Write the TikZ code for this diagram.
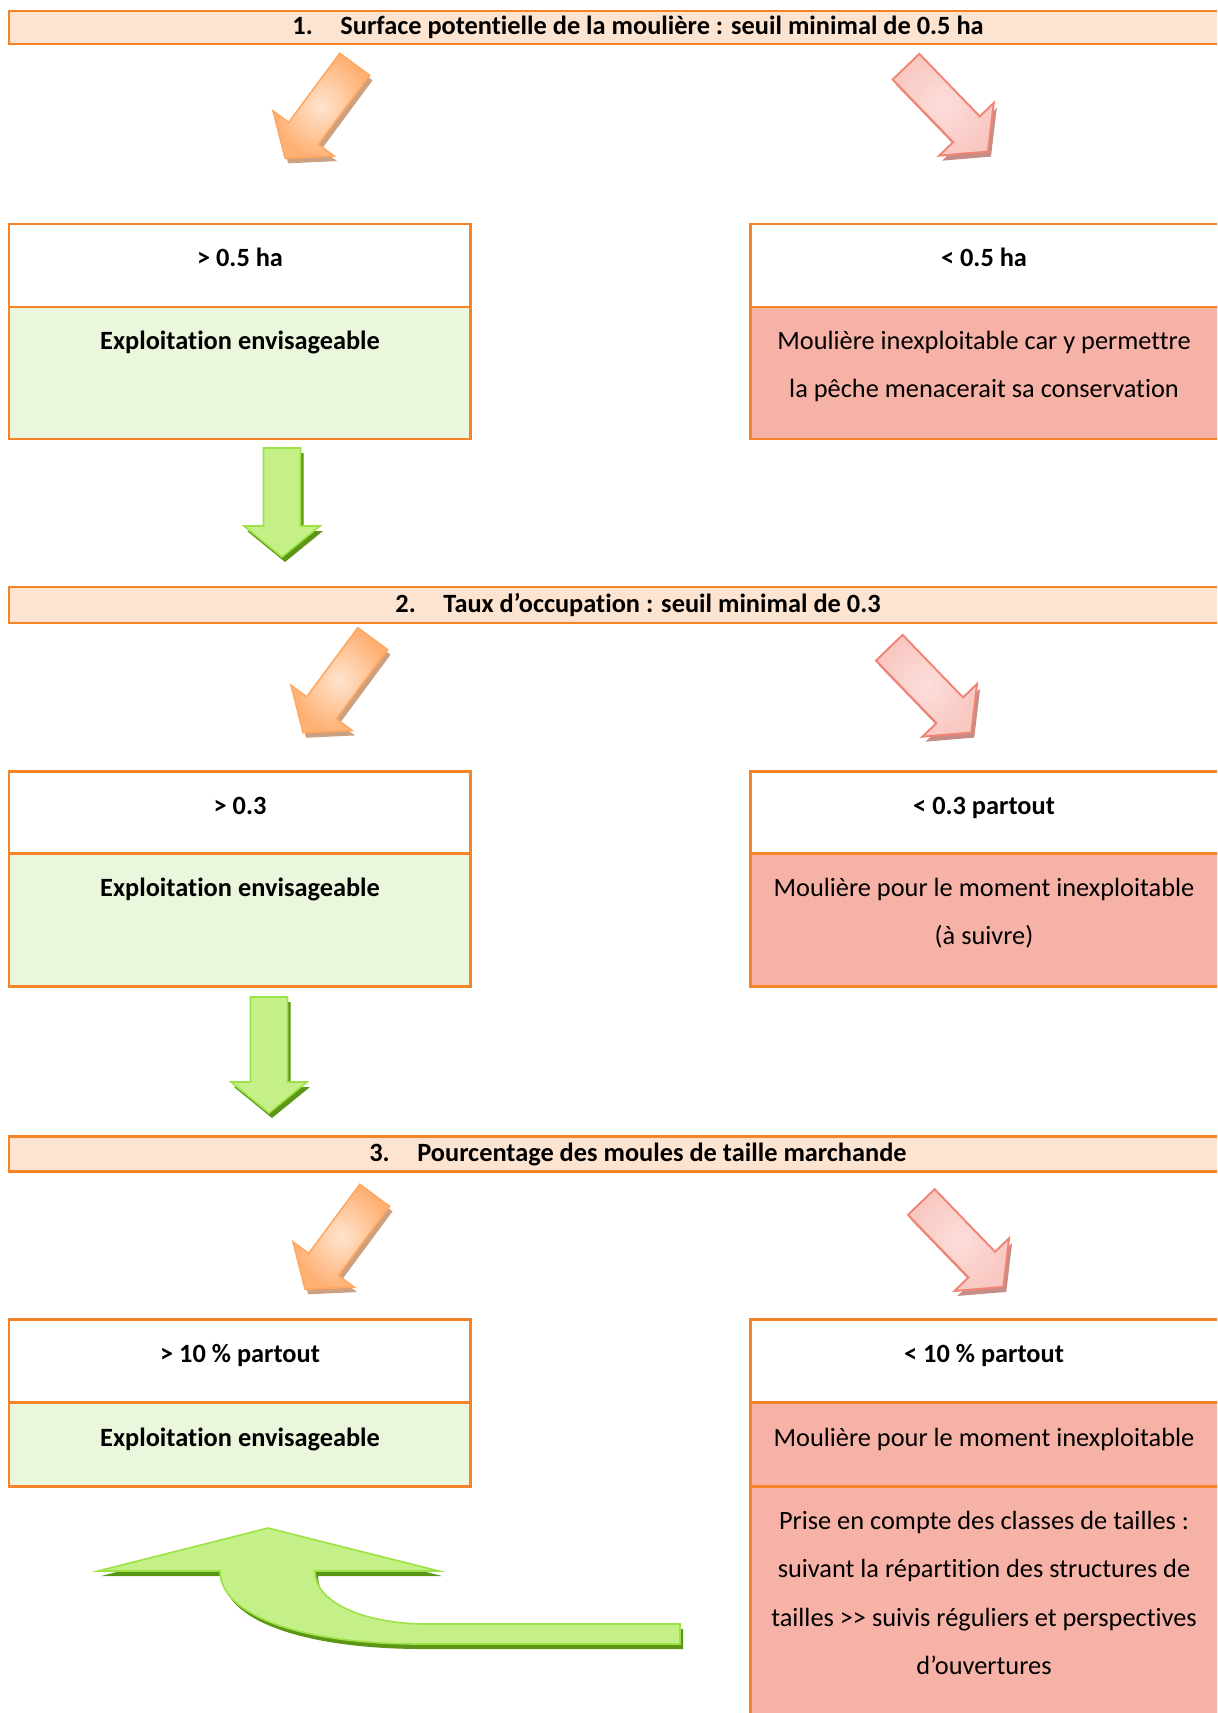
\documentclass[tikz,border=0pt]{standalone}
\usepackage{fontspec}
\setmainfont{Carlito}[Ligatures=NoCommon]
\usepackage{tikz}

\definecolor{boxorange}{RGB}{247,131,39}
\definecolor{headfill}{RGB}{253,228,208}
\definecolor{okfill}{RGB}{235,247,220}
\definecolor{nofill}{RGB}{247,178,167}
\definecolor{oraline}{RGB}{255,168,98}
\definecolor{oralight}{RGB}{255,228,206}
\definecolor{oradark}{RGB}{255,176,115}
\definecolor{orashade}{RGB}{205,160,128}
\definecolor{pnkline}{RGB}{242,132,117}
\definecolor{pnklight}{RGB}{252,222,218}
\definecolor{pnkdark}{RGB}{249,200,194}
\definecolor{pnkshade}{RGB}{198,140,134}
\definecolor{grnline}{RGB}{156,226,70}
\definecolor{grnlight}{RGB}{196,240,135}
\definecolor{grnmid}{RGB}{150,225,55}
\definecolor{grnshade}{RGB}{92,150,22}

% #1 tail, #2 angle, #3 length, #4 colour set
\newcommand{\blockarrow}[4]{%
  \begin{scope}[shift={(3,5)}]
    \begin{scope}[shift={#1}, rotate=#2]
      \fill[#4 shadow] (0,-18.5) -- (#3-31,-18.5) -- (#3-31,-38) -- (#3,0) -- (#3-31,38) -- (#3-31,18.5) -- (0,18.5) -- cycle;
    \end{scope}
  \end{scope}
  \begin{scope}[shift={#1}, rotate=#2]
    \draw[#4 arrow] (0,-18.5) -- (#3-31,-18.5) -- (#3-31,-38) -- (#3,0) -- (#3-31,38) -- (#3-31,18.5) -- (0,18.5) -- cycle;
  \end{scope}}

\begin{document}
\begin{tikzpicture}[x=0.02cm, y=-0.02cm,
  boxline/.style={draw=boxorange, line width=1.7pt},
  headbar/.style={boxline, fill=headfill},
  condbox/.style={boxline, fill=white},
  okbox/.style={boxline, fill=okfill},
  nobox/.style={boxline, fill=nofill},
  lbl/.style={font=\fontsize{15}{27.6}\selectfont, anchor=base, inner sep=0pt, align=center},
  blbl/.style={lbl, font=\fontsize{15}{27.6}\selectfont\bfseries},
  ora arrow/.style={draw=oraline, line width=0.9pt, inner color=oralight, outer color=oradark},
  ora shadow/.style={fill=orashade},
  pnk arrow/.style={draw=pnkline, line width=1.1pt, inner color=pnklight, outer color=pnkdark},
  pnk shadow/.style={fill=pnkshade},
  grn arrow/.style={draw=grnline, line width=0.9pt, top color=grnlight, middle color=grnmid, bottom color=grnlight},
  grn shadow/.style={fill=grnshade}]
  \useasboundingbox (0,0) rectangle (1217,1713);
  \clip (0,0) rectangle (1217,1713);

  % 1. surface
  \draw[headbar] (9,11) rectangle (1230,44);
  \node (h1) [blbl] at (638,35) {\makebox[0.96cm][l]{1.}Surface potentielle de la moulière : seuil minimal de 0.5 ha};
  \blockarrow{(354.7,64.3)}{-126.5}{117}{ora}
  \blockarrow{(906,66.7)}{-46}{118}{pnk}
  \draw[condbox] (9,224) rectangle (470,307);
  \draw[okbox] (9,307) rectangle (470,439);
  \draw[condbox] (750,224) rectangle (1219,307);
  \draw[nobox] (750,307) rectangle (1219,439);
  \node (c1l) [blbl] at (240,266) {> 0.5 ha};
  \node (r1l) [blbl] at (240,349) {Exploitation envisageable};
  \node (c1r) [blbl] at (984,266) {< 0.5 ha};
  \node (r1r) [lbl] at (984,397.5) {Moulière inexploitable car y permettre\\la pêche menacerait sa conservation};
  \blockarrow{(282,448)}{-90}{109}{grn}

  % 2. occupation
  \draw[headbar] (9,587) rectangle (1230,623);
  \node (h2) [blbl] at (638,612) {\makebox[0.96cm][l]{2.}Taux d’occupation : seuil minimal de 0.3};
  \blockarrow{(372.7,638.7)}{-126.5}{117}{ora}
  \blockarrow{(889.3,647.7)}{-46}{118}{pnk}
  \draw[condbox] (9,771) rectangle (470,853);
  \draw[okbox] (9,853) rectangle (470,986);
  \draw[condbox] (750,771) rectangle (1219,853);
  \draw[nobox] (750,853) rectangle (1219,986);
  \node (c2l) [blbl] at (240,814) {> 0.3};
  \node (r2l) [blbl] at (240,896) {Exploitation envisageable};
  \node (c2r) [blbl] at (984,814) {< 0.3 partout};
  \node (r2r) [lbl] at (984,944.5) {Moulière pour le moment inexploitable\\(à suivre)};
  \blockarrow{(269,997)}{-90}{116}{grn}

  % 3. taille marchande
  \draw[headbar] (9,1136) rectangle (1230,1171);
  \node (h3) [blbl] at (638,1161) {\makebox[0.96cm][l]{3.}Pourcentage des moules de taille marchande};
  \blockarrow{(374.7,1195.3)}{-126.5}{117}{ora}
  \blockarrow{(921.3,1202)}{-46}{118}{pnk}
  \draw[condbox] (9,1319) rectangle (470,1402);
  \draw[okbox] (9,1402) rectangle (470,1486);
  \draw[condbox] (750,1319) rectangle (1219,1402);
  \draw[nobox] (750,1402) rectangle (1219,1486);
  \draw[nobox] (750,1486) rectangle (1219,1725);
  \node (c3l) [blbl] at (240,1362) {> 10 \% partout};
  \node (r3l) [blbl] at (240,1446) {Exploitation envisageable};
  \node (c3r) [blbl] at (984,1362) {< 10 \% partout};
  \node (r3r) [lbl] at (984,1446) {Moulière pour le moment inexploitable};
  \node (s3r) [lbl] at (984,1674.5) {Prise en compte des classes de tailles :\\suivant la répartition des structures de\\tailles >{}> suivis réguliers et perspectives\\d’ouvertures};

  % retour
  \fill[grn shadow, shift={(3,5)}] (268,1528) -- (439,1571) -- (315,1571) .. controls (315,1605) and (370,1624) .. (426,1624) -- (680,1624) -- (680,1644) -- (420,1644) .. controls (300,1644) and (220,1615) .. (220,1571) -- (98,1571) -- cycle;
  \draw[grn arrow] (268,1528) -- (439,1571) -- (315,1571) .. controls (315,1605) and (370,1624) .. (426,1624) -- (680,1624) -- (680,1644) -- (420,1644) .. controls (300,1644) and (220,1615) .. (220,1571) -- (98,1571) -- cycle;
\end{tikzpicture}
\end{document}
